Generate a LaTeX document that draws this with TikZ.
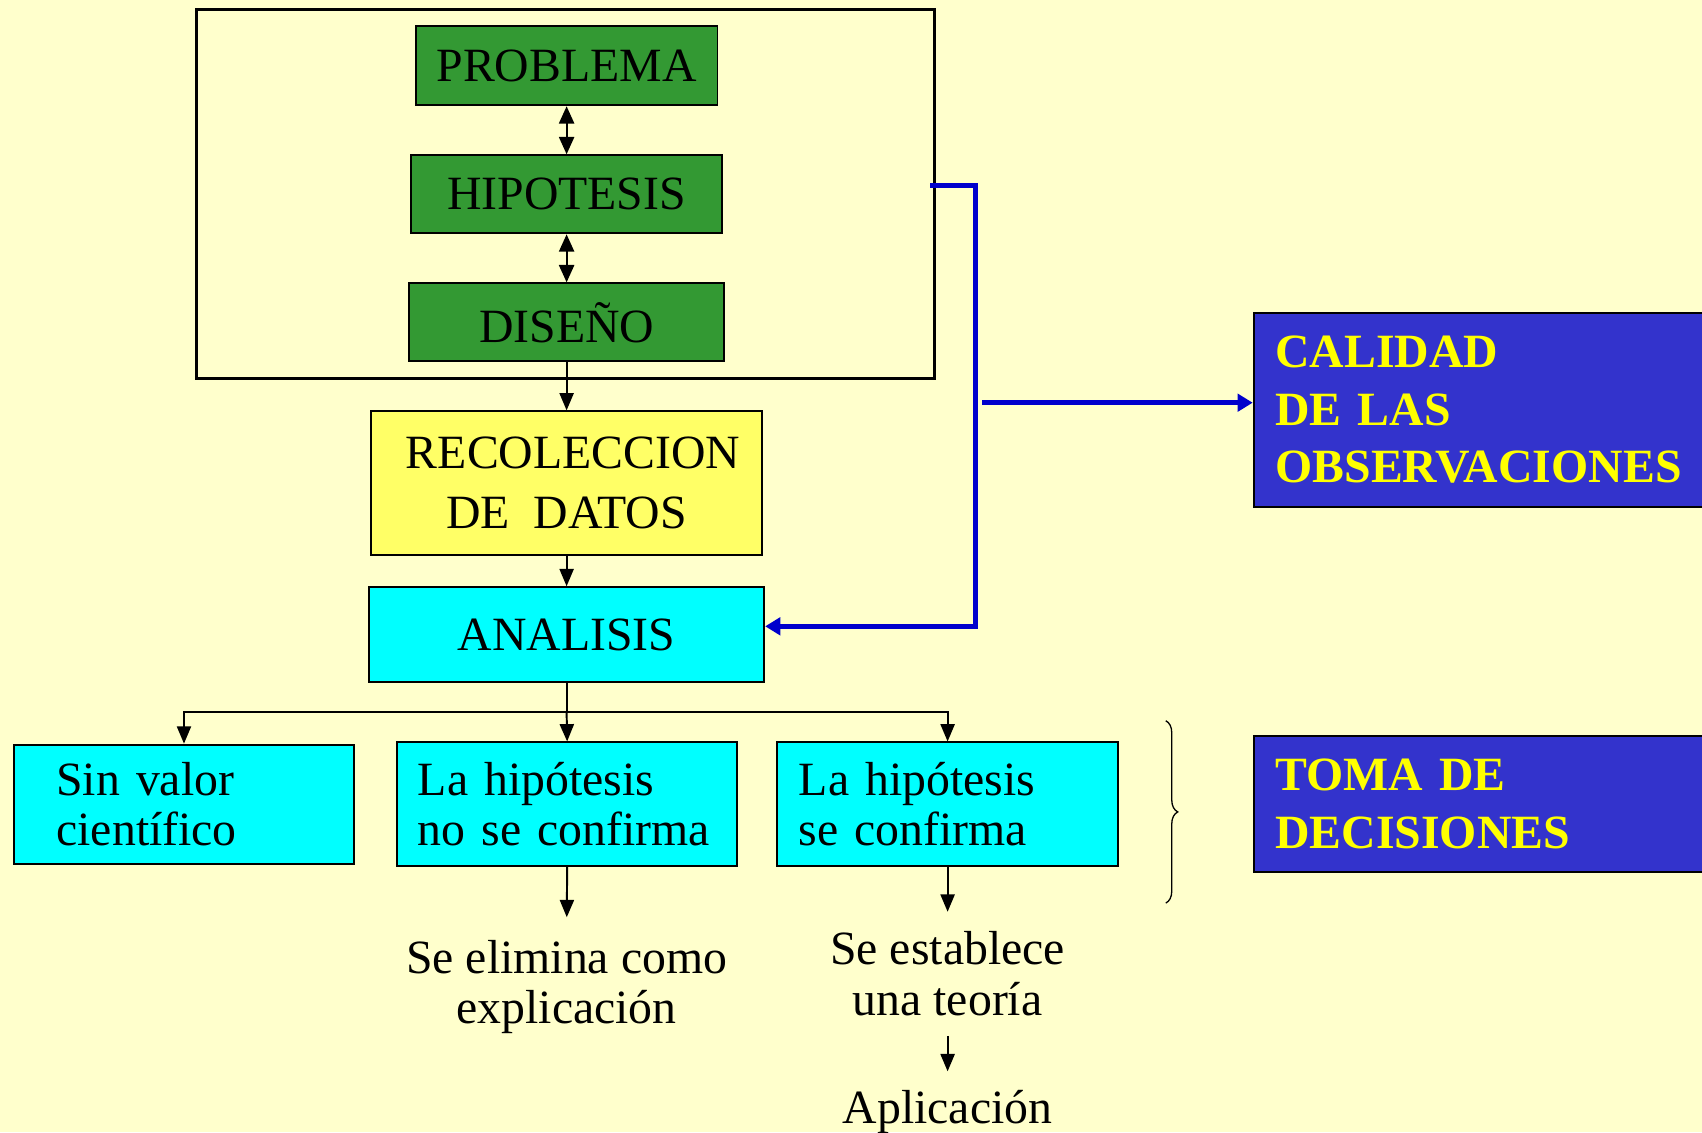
\documentclass[tikz,border=0pt]{standalone}
\usepackage{fontspec}
\setmainfont{Liberation Serif}
\usetikzlibrary{arrows.meta,decorations.pathreplacing}
\definecolor{bgc}{HTML}{FFFFCC}
\definecolor{gbg}{HTML}{339933}
\definecolor{ybg}{HTML}{FFFF66}
\definecolor{cbg}{HTML}{00FFFF}
\definecolor{bbg}{HTML}{3333CC}
\definecolor{bline}{HTML}{0000CC}
\definecolor{ytxt}{HTML}{FFFF00}
\tikzset{
  box/.style={draw=black, line width=1.8pt, inner sep=0pt, font=\fontsize{44}{46}\selectfont},
  gbox/.style={box, fill=gbg},
  cbox/.style={box, fill=cbg},
  lbox/.style={cbox, align=left},
  bbox/.style={draw=black, line width=1.8pt, fill=bbg, text=ytxt, align=left, inner ysep=0pt, inner xsep=20pt, text width=400pt, font=\fontsize{44}{53}\selectfont\bfseries},
  frame/.style={draw=black, line width=3pt, inner sep=0pt},
  arr/.style={draw=black, line width=1.8pt, -{Triangle[length=16pt,width=13pt]}},
  dbl/.style={draw=black, line width=1.8pt, {Triangle[length=16pt,width=14pt]}-{Triangle[length=16pt,width=14pt]}},
  blu/.style={draw=bline, line width=4.5pt},
  bluarr/.style={blu, -{Triangle[length=14pt,width=16pt]}},
  plain/.style={inner sep=0pt, align=center, font=\fontsize{44}{46}\selectfont},
}
\begin{document}
\begin{tikzpicture}[x=1pt,y=-1pt]
\useasboundingbox (0,0) rectangle (1568,1043);
\fill[bgc] (0,0) rectangle (1568,1043);

% upper frame
\node[frame, minimum width=680pt, minimum height=340pt] (frame) at (521,179) {};
\node[gbox, minimum width=278pt, minimum height=73pt] (prob) at (522,60.5) {PROBLEMA};
\node[gbox, minimum width=286pt, minimum height=72pt] (hip) at (522,179) {HIPOTESIS};
\node[gbox, minimum width=290pt, minimum height=72pt] (dis) at (522,297) {DISEÑO};
\node[box, fill=ybg, align=center, minimum width=360pt, minimum height=132pt, font=\fontsize{44}{55}\selectfont] (rec) at (522,445) {\hspace*{12pt}RECOLECCION\\DE\ \ DATOS};
\node[cbox, minimum width=364pt, minimum height=87pt] (ana) at (522,584.5) {ANALISIS};

\draw[dbl] (prob.south) -- (hip.north);
\draw[dbl] (hip.south) -- (dis.north);
\draw[arr] (dis.south) -- (rec.north);
\draw[arr] (rec.south) -- (ana.north);

% right boxes
\node[bbox, minimum height=179pt] (cal) at (1375,377.5) {CALIDAD\\DE LAS\\OBSERVACIONES};
\node[bbox, minimum height=125pt] (toma) at (1375,740.5) {TOMA DE\\DECISIONES};

% blue connectors
\coordinate (bs) at (857,171);
\coordinate (bc) at (899,171);
\coordinate (bd) at (899,577);
\draw[bluarr] (bs) -- (bc) -- (bd) -- (bd -| ana.east);
\coordinate (qa) at (905,371);
\draw[bluarr] (qa) -- (qa -| cal.west);

% decision boxes
\node[lbox, minimum width=313pt, minimum height=110pt, inner xsep=39pt, text width=235pt] (sinv) at (169.5,741) {Sin valor\\científico};
\node[lbox, minimum width=313pt, minimum height=114pt, inner xsep=19pt, text width=275pt] (nocf) at (522.5,741) {La hipótesis\\no se confirma};
\node[lbox, minimum width=314pt, minimum height=114pt, inner xsep=20pt, text width=274pt] (sicf) at (873,741) {La hipótesis\\se confirma};

\coordinate (split) at (522,656);
\draw[line width=1.8pt] (ana.south) -- (split);
\draw[arr] (split) -| (sinv.north);
\draw[arr] (split) -- (nocf.north);
\draw[arr] (split) -| (sicf.north);

% brace
\coordinate (b1) at (1074,664);
\coordinate (b2) at (1074,832);
\draw[line width=1.2pt, decorate, decoration={brace, amplitude=11pt}] (b1) -- (b2);

% results
\node[plain, anchor=north] (elim) at (522,866) {Se elimina como\\explicación};
\node[plain, anchor=north, font=\fontsize{44}{47}\selectfont] (teo) at (873,858) {Se establece\\una teoría};
\node[plain, anchor=north] (apl) at (873,1004) {Aplicación};

\draw[arr, shorten >=21pt] (nocf.south) -- (elim.north);
\draw[arr, shorten >=18pt] (sicf.south) -- (teo.north);
\draw[arr, shorten <=18pt, shorten >=17pt] (teo.south) -- (apl.north);
\end{tikzpicture}
\end{document}
